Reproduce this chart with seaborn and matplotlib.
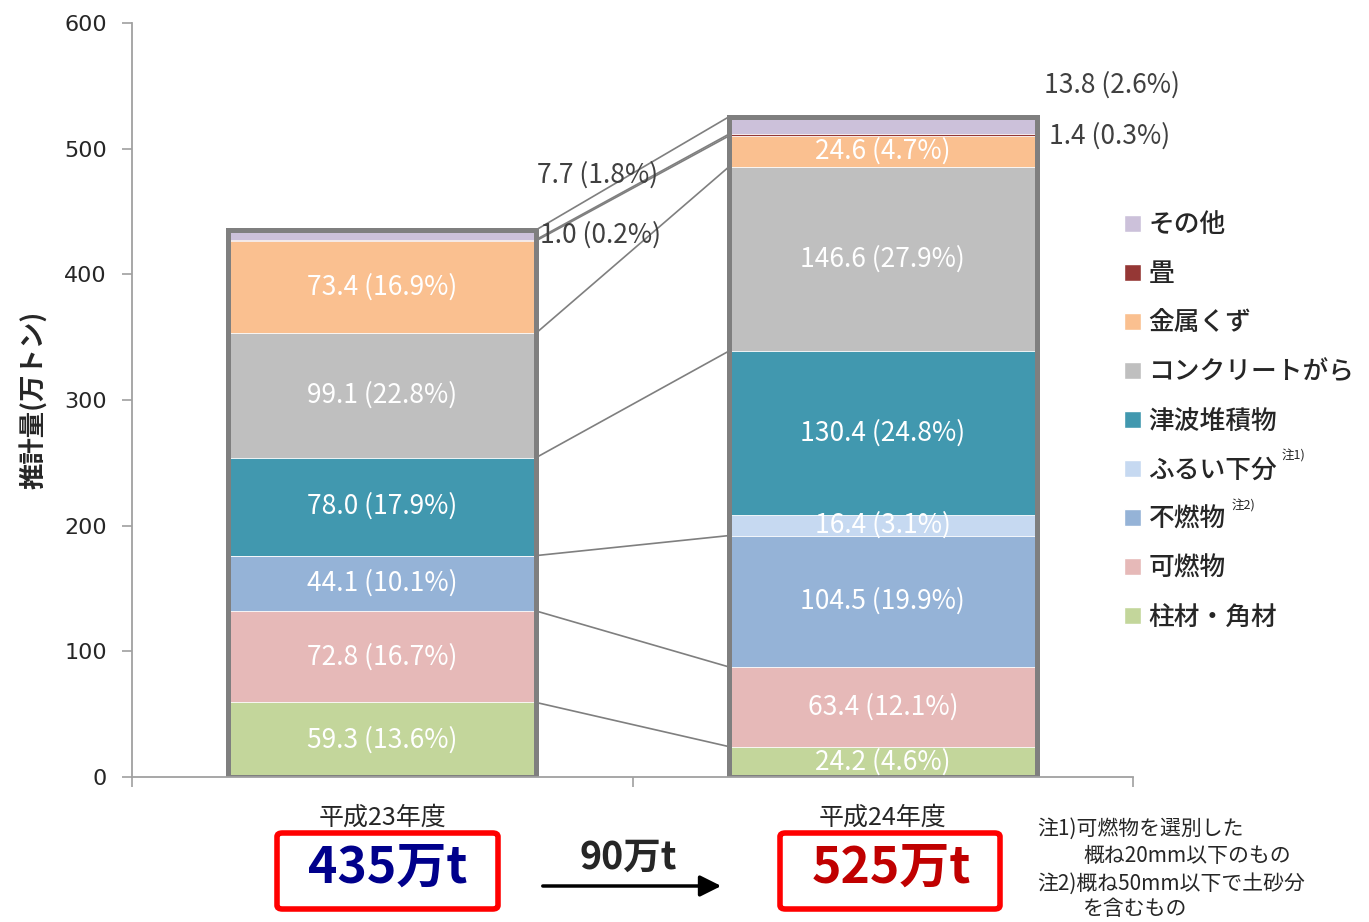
import numpy as np
import pandas as pd
import matplotlib.pyplot as plt
import seaborn as sns
from matplotlib.patches import Patch, FancyBboxPatch

categories = ['柱材・角材', '可燃物', '不燃物', 'ふるい下分', '津波堆積物',
              'コンクリートがら', '金属くず', '畳', 'その他']
years = ['平成23年度', '平成24年度']
h23 = [59.3, 72.8, 44.1, 0.0, 78.0, 99.1, 73.4, 1.0, 7.7]
h24 = [24.2, 63.4, 104.5, 16.4, 130.4, 146.6, 24.6, 1.4, 13.8]
pct23 = [13.6, 16.7, 10.1, 0.0, 17.9, 22.8, 16.9, 0.2, 1.8]
pct24 = [4.6, 12.1, 19.9, 3.1, 24.8, 27.9, 4.7, 0.3, 2.6]
totals = ['435万t', '525万t']
diff_label = '90万t'
colors = ['#C3D69B', '#E6B9B8', '#95B3D7', '#C6D9F1', '#4198AF',
          '#BFBFBF', '#FAC090', '#953735', '#CCC1DA']

sns.set_style('white')
plt.rcParams['font.family'] = ['Noto Sans CJK JP', 'DejaVu Sans']

W, H = 1369, 922
def fx(px):
    return px / W
def fy(py):
    return 1 - py / H

fig = plt.figure(figsize=(W / 100, H / 100), dpi=100)
ax = fig.add_axes([fx(132), fy(777), fx(1133) - fx(132), fy(23) - fy(777)])

cum23 = np.cumsum(h23)
cum24 = np.cumsum(h24)
df = pd.DataFrame({'year': np.repeat(years, len(categories)),
                   'cat': categories * 2,
                   'top': np.concatenate([cum23, cum24])})

bw = 0.615
# stacked bars: draw cumulative tops from the largest down
for i in range(len(categories) - 1, -1, -1):
    sub = df[df['cat'] == categories[i]]
    sns.barplot(data=sub, x='year', y='top', order=years, color=colors[i],
                width=bw, saturation=1, errorbar=None, edgecolor='white',
                linewidth=0.6, ax=ax)

# outline of each stack
tot = df[df['cat'] == categories[-1]]
sns.barplot(data=tot, x='year', y='top', order=years, fill=False,
            width=bw, errorbar=None, edgecolor='#7F7F7F', linewidth=3.6, ax=ax)

# connecting lines between the stacks (skip the empty H23 segment)
for a, b, v in zip(cum23, cum24, h23):
    if v == 0:
        continue
    ax.plot([bw / 2, 1 - bw / 2], [a, b], color='#7F7F7F', lw=1.2, zorder=5)

# value labels inside
for j, (vals, pcts, cum) in enumerate([(h23, pct23, cum23), (h24, pct24, cum24)]):
    for i in range(7):
        if vals[i] == 0:
            continue
        mid = cum[i] - vals[i] / 2
        ax.text(j, mid, f'{vals[i]:.1f} ({pcts[i]:.1f}%)', color='white',
                ha='center', va='center', fontsize=19, zorder=6)

# small segments labelled outside
outside = [(0, 8, 0.31, 479), (0, 7, 0.315, 431), (1, 8, 1.322, 551), (1, 7, 1.333, 510)]
for j, i, xx, yy in outside:
    vals, pcts = (h23, pct23) if j == 0 else (h24, pct24)
    ax.text(xx, yy, f'{vals[i]:.1f} ({pcts[i]:.1f}%)', color='#404040',
            ha='left', va='center', fontsize=19, zorder=6)

ax.set_xlim(-0.5, 1.5)
ax.set_ylim(0, 600)
ax.set_yticks(range(0, 601, 100))
ax.set_xlabel('')
ax.set_ylabel('推計量(万トン)', fontsize=19, fontweight='bold', labelpad=12)
for lab in ax.get_yticklabels():
    lab.set_family('DejaVu Sans')
ax.tick_params(axis='y', labelsize=16, length=7, width=1.2, color='#A0A0A0',
               direction='out', pad=11, left=True)
ax.tick_params(axis='x', which='major', length=0, labelsize=18, pad=20)
ax.set_xticks([-0.5, 0.5, 1.5], minor=True)
ax.tick_params(axis='x', which='minor', length=7, width=1.2, color='#A0A0A0',
               direction='out', bottom=True)
for s in ['top', 'right']:
    ax.spines[s].set_visible(False)
for s in ['left', 'bottom']:
    ax.spines[s].set_color('#A0A0A0')
    ax.spines[s].set_linewidth(1.3)

# legend
handles = [Patch(facecolor=c) for c in colors[::-1]]
leg = fig.legend(handles, categories[::-1], loc='upper left',
                 bbox_to_anchor=(fx(1101), fy(188)), frameon=False,
                 prop={'size': 18.5, 'weight': 'medium'},
                 handlelength=0.65, handleheight=0.65, handletextpad=0.3,
                 labelspacing=0.86)
fig.text(fx(1282), fy(460), '注1)', fontsize=9)
fig.text(fx(1232), fy(510), '注2)', fontsize=9)

# total boxes
for cx, x0, x1, label, col in [(388, 277, 498, totals[0], '#00008B'),
                                 (891, 780, 1000, totals[1], '#C00000')]:
    box = FancyBboxPatch((fx(x0), fy(909)), fx(x1) - fx(x0), fy(833) - fy(909),
                         boxstyle='round,pad=0,rounding_size=0.004',
                         transform=fig.transFigure, facecolor='white',
                         edgecolor='#FF0000', lw=4, clip_on=False)
    fig.add_artist(box)
    fig.text(fx(cx), fy(868), label, ha='center', va='center', fontsize=36,
             fontweight='bold', color=col)

fig.text(fx(628), fy(857), diff_label, ha='center', va='center', fontsize=27,
         fontweight='bold')
ax.annotate('', xy=(fx(724), fy(886)), xycoords='figure fraction',
            xytext=(fx(540), fy(886)), textcoords='figure fraction',
            arrowprops=dict(arrowstyle='-|>', lw=2.5, color='black',
                            mutation_scale=32), annotation_clip=False)

notes = [(1037, 829, '注1)可燃物を選別した'), (1083, 856, '概ね20mm以下のもの'),
         (1037, 884, '注2)概ね50mm以下で土砂分'), (1083, 909, 'を含むもの')]
for px, py, t in notes:
    fig.text(fx(px), fy(py), t, ha='left', va='center', fontsize=15)

fig.savefig('out.png', dpi=100)
